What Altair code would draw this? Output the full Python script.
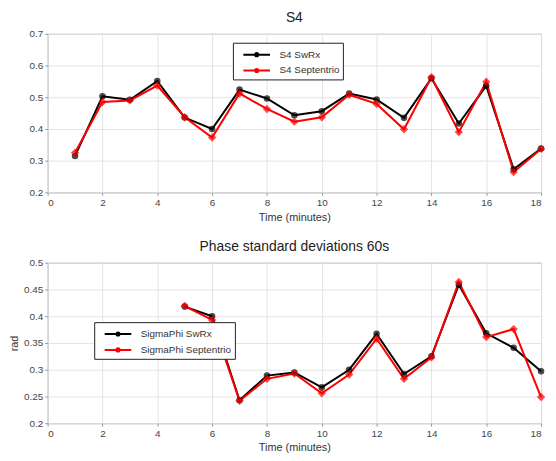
import altair as alt
import pandas as pd

minutes = list(range(1, 19))
s4_swrx = [0.315, 0.503, 0.492, 0.551, 0.436, 0.400, 0.524, 0.496, 0.443,
           0.456, 0.512, 0.493, 0.435, 0.560, 0.417, 0.536, 0.273, 0.338]
s4_sept = [0.325, 0.485, 0.490, 0.537, 0.437, 0.373, 0.512, 0.463, 0.423,
           0.437, 0.508, 0.479, 0.399, 0.563, 0.390, 0.549, 0.264, 0.337]

phi_minutes = list(range(5, 19))
phi_swrx = [0.418, 0.400, 0.243, 0.289, 0.295, 0.267, 0.300, 0.367, 0.292,
            0.325, 0.459, 0.368, 0.341, 0.297]
phi_sept = [0.419, 0.393, 0.242, 0.283, 0.293, 0.256, 0.291, 0.358, 0.283,
            0.323, 0.464, 0.361, 0.376, 0.249]

top_names = ["S4 SwRx", "S4 Septentrio"]
bot_names = ["SigmaPhi SwRx", "SigmaPhi Septentrio"]
colors = ["#000000", "#ff0000"]
shapes = ["circle", "diamond"]
sizes = [26, 40]

top_df = pd.concat([
    pd.DataFrame({"t": minutes, "v": s4_swrx, "series": top_names[0]}),
    pd.DataFrame({"t": minutes, "v": s4_sept, "series": top_names[1]}),
])
bot_df = pd.concat([
    pd.DataFrame({"t": phi_minutes, "v": phi_swrx, "series": bot_names[0]}),
    pd.DataFrame({"t": phi_minutes, "v": phi_sept, "series": bot_names[1]}),
])

# line with a dot through it, used as the legend symbol
legend_symbol = "M-1.7,0H1.7M-0.2,0A0.2,0.2,0,1,1,0.2,0A0.2,0.2,0,1,1,-0.2,0"


def panel(df, names, title, ydomain, ystep, ytitle, lx, ly, h):
    x = alt.X("t:Q", title="Time (minutes)",
              scale=alt.Scale(domain=[0, 18], nice=False),
              axis=alt.Axis(values=list(range(0, 19, 2)), format="d"))
    n = int(round((ydomain[1] - ydomain[0]) / ystep))
    yvals = [round(ydomain[0] + i * ystep, 3) for i in range(n + 1)]
    y = alt.Y("v:Q", title=ytitle,
              scale=alt.Scale(domain=ydomain, nice=False, zero=False),
              axis=alt.Axis(values=yvals, format=".2~f"))
    lines = alt.Chart(df).mark_line(strokeWidth=2).encode(
        x=x, y=y,
        color=alt.Color("series:N", scale=alt.Scale(domain=names, range=colors),
                        legend=alt.Legend(title=None, orient="none",
                                          legendX=lx, legendY=ly,
                                          symbolType=legend_symbol,
                                          symbolSize=250, symbolStrokeWidth=2,
                                          symbolOffset=12, labelOffset=14,
                                          labelFontSize=10, labelColor="#333",
                                          strokeColor="#222", fillColor="white",
                                          padding=3, rowPadding=1)),
    )
    layers = [lines]
    for name, col, shp, sz in zip(names, colors, shapes, sizes):
        layers.append(
            alt.Chart(df).transform_filter(alt.datum.series == name)
            .mark_point(filled=True, size=sz, shape=shp, color=col,
                        stroke=col, strokeWidth=1.5)
            .encode(x=x, y=y)
        )
    return alt.layer(*layers).properties(
        width=498, height=h,
        title=alt.Title(title, fontSize=14, fontWeight="normal", color="#222"),
    )


top = panel(top_df, top_names, "S4", [0.2, 0.7], 0.1, None, 187, 9, 160)
bot = panel(bot_df, bot_names, "Phase standard deviations 60s",
            [0.2, 0.5], 0.05, "rad", 47, 60, 162)

chart = alt.vconcat(top, bot, spacing=16).resolve_scale(
    color="independent"
).resolve_legend(
    color="independent"
).configure_view(
    stroke="#999", strokeWidth=1
).configure_axis(
    grid=True, gridColor="#e4e4e4", labelFontSize=10, labelColor="#444",
    titleFontSize=11, titleFontWeight="normal", titleColor="#333",
    domain=False, tickSize=3, tickColor="#999", labelFont="Liberation Sans",
    titleFont="Liberation Sans",
).configure_legend(labelFont="Liberation Sans").configure_title(
    font="Liberation Sans", offset=4
).properties(background="white", padding=0)

chart.save("out.html", embed_options={"renderer": "svg", "actions": False})
